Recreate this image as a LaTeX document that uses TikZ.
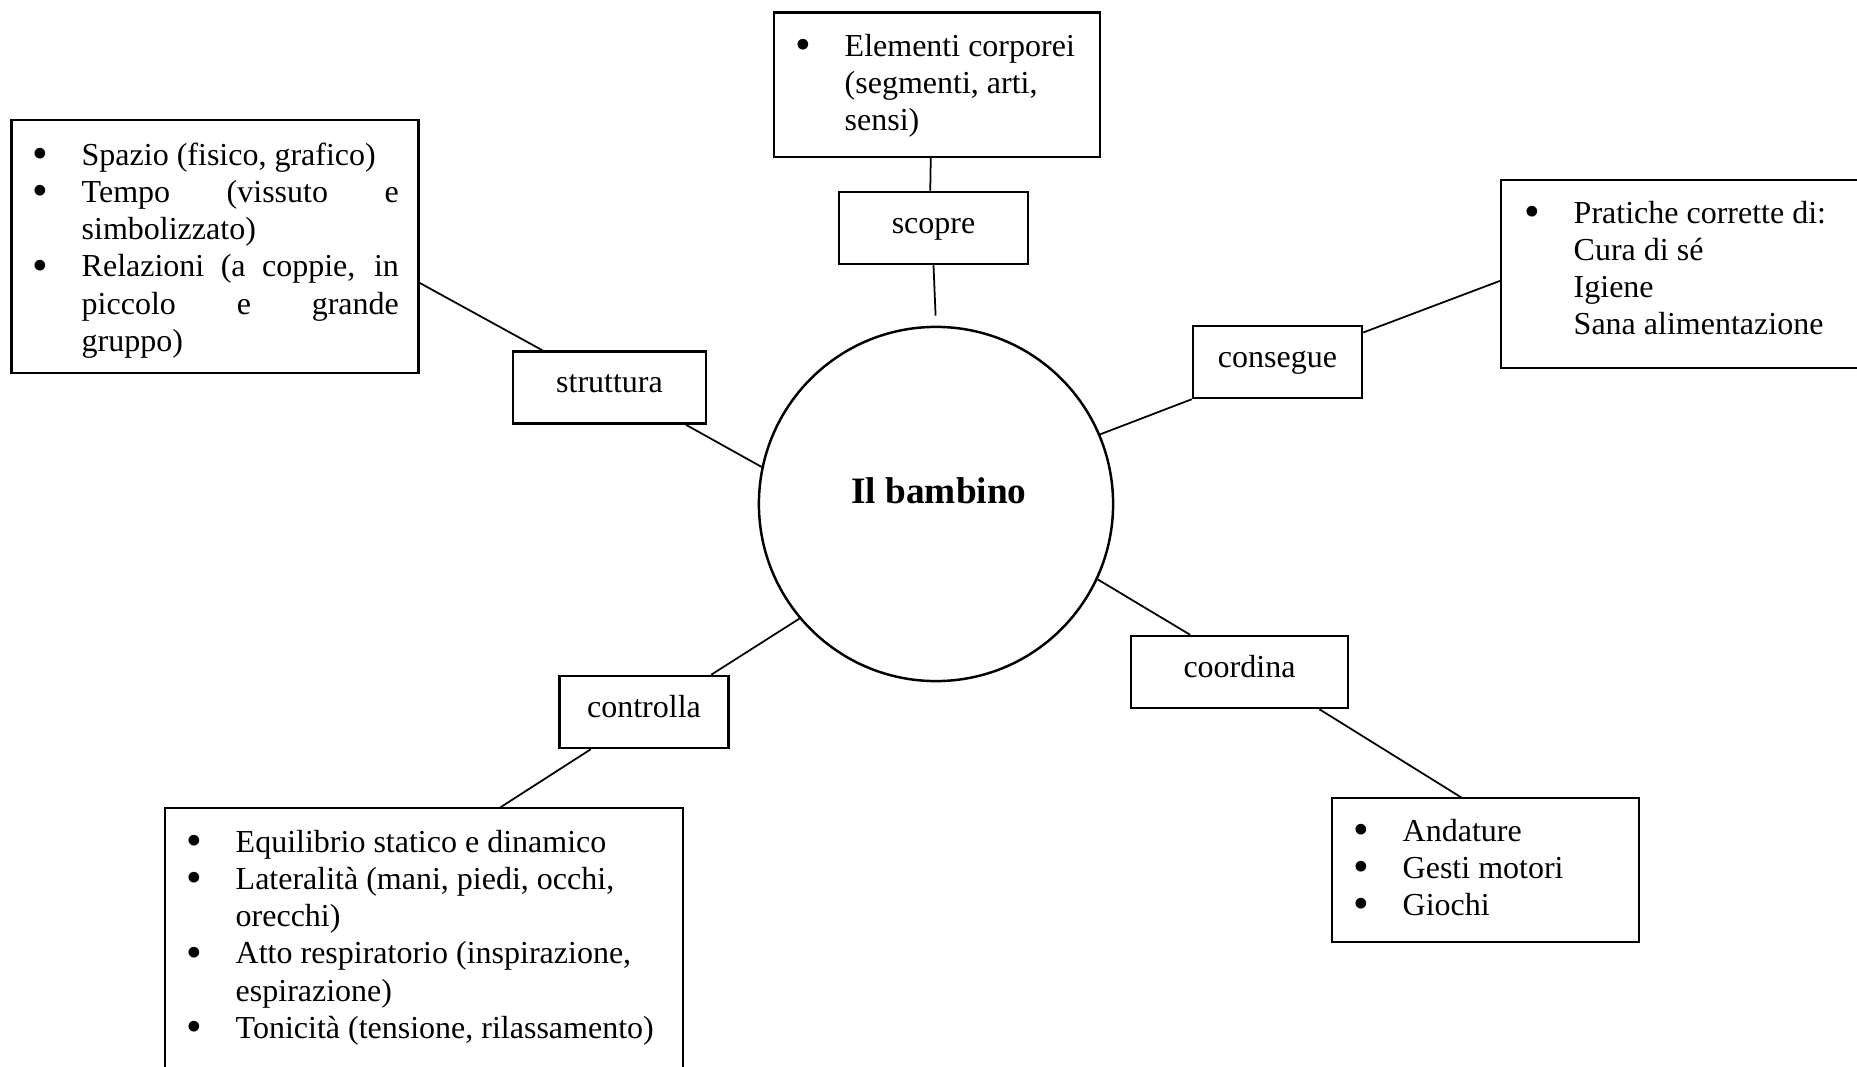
\documentclass[tikz,border=0pt]{standalone}
\usepackage{fontspec}
\usepackage{graphicx}
\setmainfont{Liberation Serif}
\usetikzlibrary{positioning}

\newcommand{\bul}{\strut\llap{\raisebox{-0.9pt}{\scalebox{1.4}{\textbullet}}\hspace{0.34cm}}}
\newcommand{\jline}[1]{\makebox[3.17cm][s]{#1}}

\tikzset{
  frame/.style={draw, line width=0.7pt, inner sep=0pt, outer sep=0pt, anchor=north west},
  tag/.style={draw, line width=0.7pt, minimum height=0.72cm, text height=0.2cm, text depth=0.09cm, inner sep=0pt},
  items/.style={anchor=north west, inner sep=0pt, align=left},
  link/.style={line width=0.5pt}
}

\begin{document}
\begin{tikzpicture}[x=0.01cm, y=-0.01cm, font=\fontsize{9.1}{10.6}\selectfont]
\useasboundingbox (0,0) rectangle (1857,1067);

% centro
\node[draw, circle, line width=0.7pt, minimum size=3.54cm, inner sep=0pt,
  text height=0.3cm, text depth=0.3cm, font=\fontsize{10.6}{12}\selectfont\bfseries] (bambino) at (936,504) {\hspace{0.06cm}Il bambino};

% riquadri
\node[frame, minimum width=4.066cm, minimum height=2.527cm] (spazio) at (11.7,120) {};
\node[frame, minimum width=3.26cm, minimum height=1.44cm] (elementi) at (774,12.7) {};
\node[frame, minimum width=3.69cm, minimum height=1.88cm] (pratiche) at (1501,180) {};
\node[frame, minimum width=3.07cm, minimum height=1.44cm] (andature) at (1332,798) {};
\node[frame, minimum width=5.176cm, minimum height=2.72cm] (equilibrio) at (165,808) {};

% verbi
\foreach \name/\x/\y/\w in {
    struttura/609.5/387.5/1.93,
    scopre/933.5/228/1.89,
    consegue/1277.5/362/1.69,
    coordina/1239.5/672/2.17,
    controlla/644/712/1.685
} {
    \node[tag, minimum width=\w cm] (\name) at (\x,\y) {\name};
}

% testi
\node[items] (spaziotxt) at (81,138.3) {\bul Spazio (fisico, grafico)\\
  \bul\jline{Tempo (vissuto e}\\ simbolizzato)\\
  \bul\jline{Relazioni (a coppie, in}\\ \jline{piccolo e grande}\\ gruppo)};
\node[items] (elementitxt) at (844,29.3) {\bul Elementi corporei\\ (segmenti, arti,\\ sensi)};
\node[items] (pratichetxt) at (1573,196.3) {\bul Pratiche corrette di:\\ Cura di sé\\ Igiene\\ Sana alimentazione};
\node[items] (andaturetxt) at (1402,814.3) {\bul Andature\\ \bul Gesti motori\\ \bul Giochi};
\node[items] (equilibriotxt) at (235,825.3) {\bul Equilibrio statico e dinamico\\
  \bul Lateralità (mani, piedi, occhi,\\ orecchi)\\
  \bul Atto respiratorio (inspirazione,\\ espirazione)\\
  \bul Tonicità (tensione, rilassamento)};

% collegamenti
\draw[link] (spazio.-10.5) -- (struttura.151);
\draw[link] (struttura.-26.4) -- (bambino.168);
\draw[link] (elementi.-95.6) -- (scopre.95.6);
\draw[link, shorten >=0.1cm] (scopre.south) -- (bambino.north);
\draw[link] (bambino.23.7) -- (consegue.south west);
\draw[link] (consegue.19.5) -- (pratiche.182);
\draw[link] (bambino.-25.7) -- (coordina.143.4);
\draw[link] (coordina.-25.2) -- (andature.108.1);
\draw[link] (bambino.220) -- (controlla.29.7);
\draw[link] (controlla.215.2) -- (equilibrio.61.7);
\end{tikzpicture}
\end{document}
